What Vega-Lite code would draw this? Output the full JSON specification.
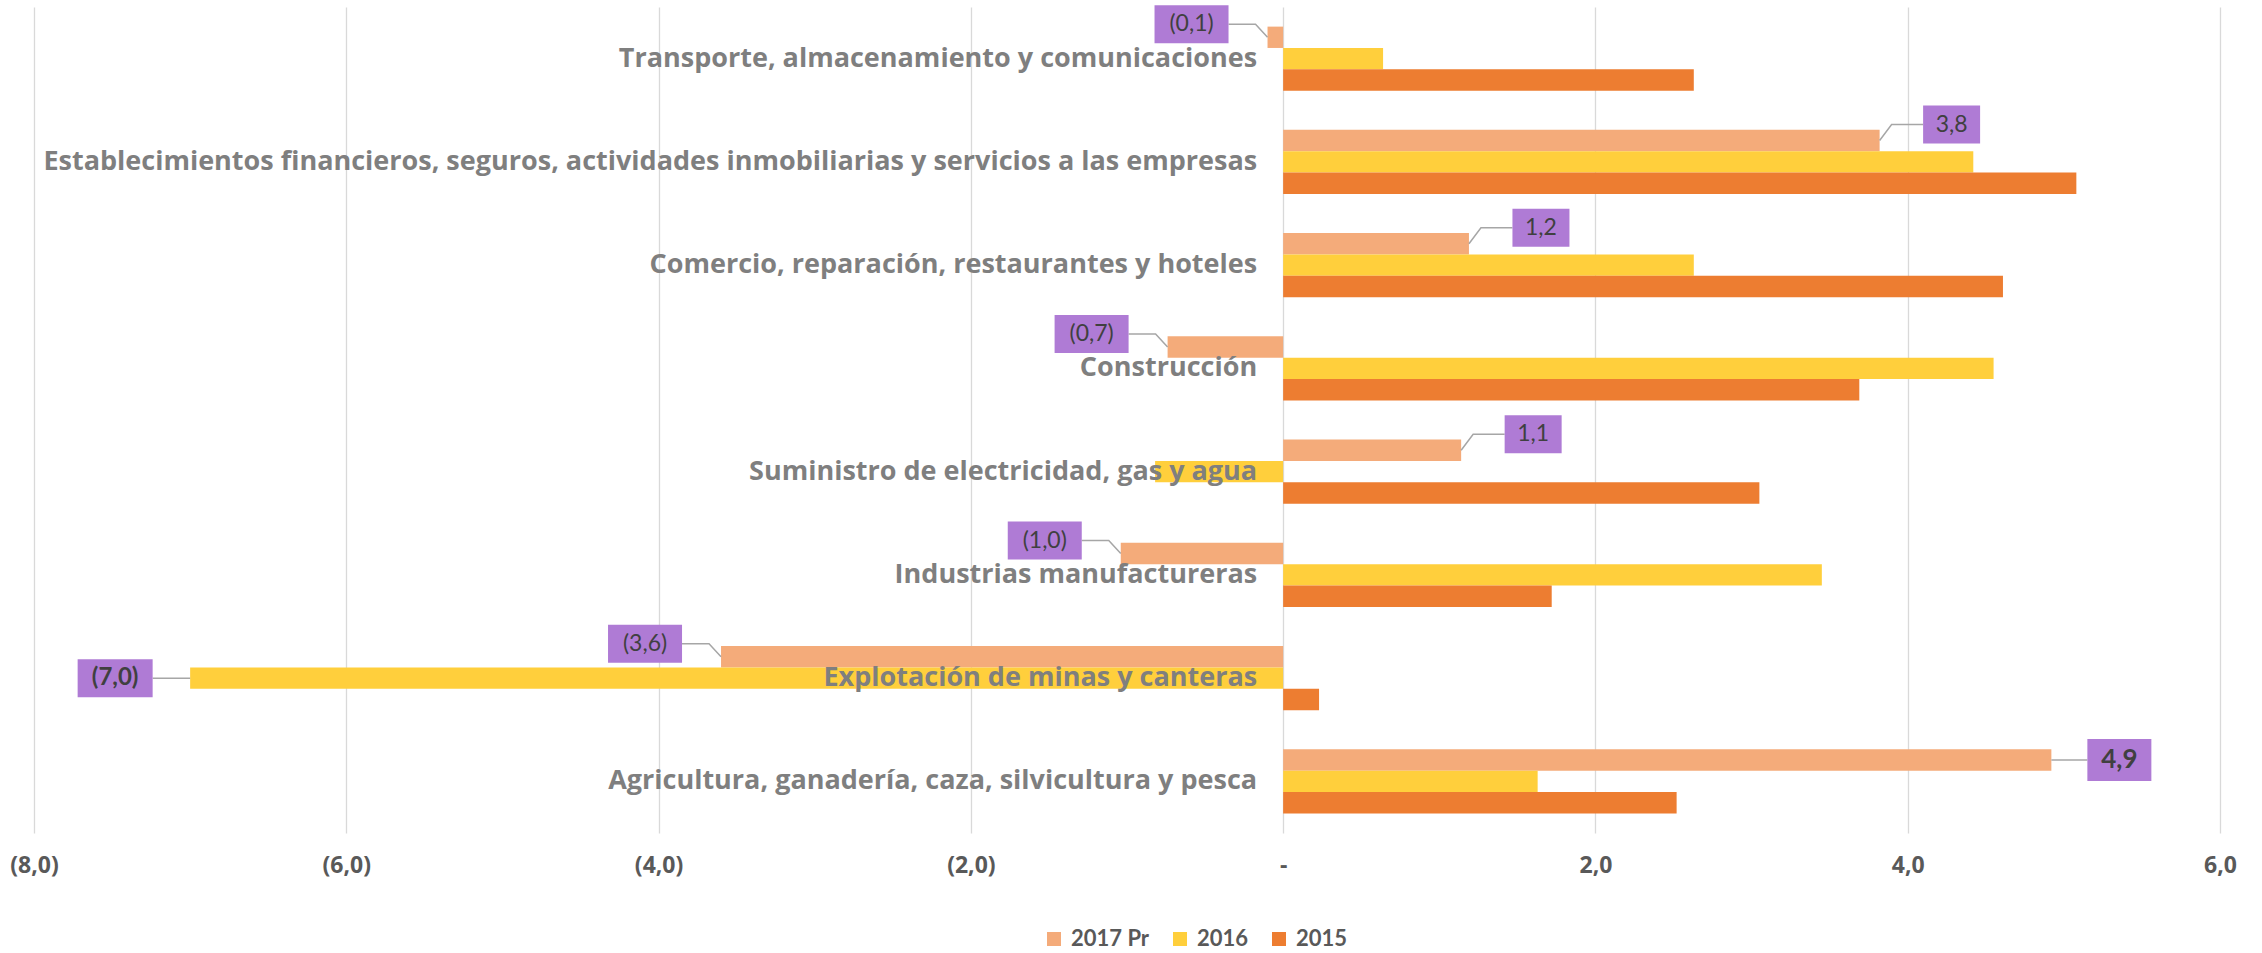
{
  "$schema": "https://vega.github.io/schema/vega-lite/v6.json",
  "width": 2186,
  "height": 826,
  "autosize": {"type": "none"},
  "padding": {"left": 34, "top": 7, "right": 42, "bottom": 120},
  "background": "white",
  "config": {
    "view": {"stroke": null},
    "font": "Lato",
    "locale": {"number": {"decimal": ",", "thousands": ".", "grouping": [3], "currency": ["", ""]}}
  },
  "data": {
    "values": [
      {"sector": "Transporte, almacenamiento y comunicaciones", "serie": "2017 Pr", "valor": -0.1},
      {"sector": "Transporte, almacenamiento y comunicaciones", "serie": "2016", "valor": 0.64},
      {"sector": "Transporte, almacenamiento y comunicaciones", "serie": "2015", "valor": 2.63},
      {"sector": "Establecimientos financieros, seguros, actividades inmobiliarias y servicios a las empresas", "serie": "2017 Pr", "valor": 3.82},
      {"sector": "Establecimientos financieros, seguros, actividades inmobiliarias y servicios a las empresas", "serie": "2016", "valor": 4.42},
      {"sector": "Establecimientos financieros, seguros, actividades inmobiliarias y servicios a las empresas", "serie": "2015", "valor": 5.08},
      {"sector": "Comercio, reparación, restaurantes y hoteles", "serie": "2017 Pr", "valor": 1.19},
      {"sector": "Comercio, reparación, restaurantes y hoteles", "serie": "2016", "valor": 2.63},
      {"sector": "Comercio, reparación, restaurantes y hoteles", "serie": "2015", "valor": 4.61},
      {"sector": "Construcción", "serie": "2017 Pr", "valor": -0.74},
      {"sector": "Construcción", "serie": "2016", "valor": 4.55},
      {"sector": "Construcción", "serie": "2015", "valor": 3.69},
      {"sector": "Suministro de electricidad, gas y agua", "serie": "2017 Pr", "valor": 1.14},
      {"sector": "Suministro de electricidad, gas y agua", "serie": "2016", "valor": -0.82},
      {"sector": "Suministro de electricidad, gas y agua", "serie": "2015", "valor": 3.05},
      {"sector": "Industrias manufactureras", "serie": "2017 Pr", "valor": -1.04},
      {"sector": "Industrias manufactureras", "serie": "2016", "valor": 3.45},
      {"sector": "Industrias manufactureras", "serie": "2015", "valor": 1.72},
      {"sector": "Explotación de minas y canteras", "serie": "2017 Pr", "valor": -3.6},
      {"sector": "Explotación de minas y canteras", "serie": "2016", "valor": -7.0},
      {"sector": "Explotación de minas y canteras", "serie": "2015", "valor": 0.23},
      {"sector": "Agricultura, ganadería, caza, silvicultura y pesca", "serie": "2017 Pr", "valor": 4.92},
      {"sector": "Agricultura, ganadería, caza, silvicultura y pesca", "serie": "2016", "valor": 1.63},
      {"sector": "Agricultura, ganadería, caza, silvicultura y pesca", "serie": "2015", "valor": 2.52}
    ]
  },
  "encoding": {
    "y": {
      "field": "sector",
      "type": "nominal",
      "sort": [
        "Transporte, almacenamiento y comunicaciones",
        "Establecimientos financieros, seguros, actividades inmobiliarias y servicios a las empresas",
        "Comercio, reparación, restaurantes y hoteles",
        "Construcción",
        "Suministro de electricidad, gas y agua",
        "Industrias manufactureras",
        "Explotación de minas y canteras",
        "Agricultura, ganadería, caza, silvicultura y pesca"
      ],
      "scale": {"paddingInner": 0.38, "paddingOuter": 0.19},
      "axis": null
    }
  },
  "layer": [
    {
      "mark": {"type": "bar"},
      "encoding": {
        "x": {
          "field": "valor",
          "type": "quantitative",
          "scale": {"domain": [-8, 6], "nice": false, "zero": false},
          "axis": {
            "values": [-8, -6, -4, -2, 0, 2, 4, 6],
            "format": "(.1f",
            "labelExpr": "datum.value == 0 ? '-' : datum.label",
            "title": null,
            "grid": true,
            "gridColor": "#D9D9D9",
            "gridWidth": 1.3,
            "domain": false,
            "ticks": false,
            "labelFlush": false,
            "labelPadding": 21,
            "labelFont": "Open Sans",
            "labelFontWeight": "bold",
            "labelFontSize": 23,
            "labelColor": "#595959"
          }
        },
        "yOffset": {"field": "serie", "sort": ["2017 Pr", "2016", "2015"]},
        "color": {
          "field": "serie",
          "type": "nominal",
          "scale": {"domain": ["2017 Pr", "2016", "2015"], "range": ["#F4AB7A", "#FFCF3C", "#ED7D31"]},
          "legend": {
            "title": null,
            "orient": "none",
            "direction": "horizontal",
            "legendX": 1009,
            "legendY": 921,
            "padding": 0,
            "symbolType": "square",
            "symbolSize": 196,
            "symbolStrokeWidth": 0,
            "labelFont": "Lato",
            "labelFontWeight": "bold",
            "labelFontSize": 22,
            "labelColor": "#595959",
            "labelOffset": 6,
            "columnPadding": 19
          }
        }
      }
    },
    {
      "transform": [{"filter": "datum.serie == '2016'"}],
      "mark": {"type": "text", "align": "right", "baseline": "middle", "dx": -26, "font": "Open Sans", "fontWeight": "bold", "fontSize": 27, "color": "#7F7F7F"},
      "encoding": {"x": {"datum": 0}, "text": {"field": "sector"}}
    },
    {
      "transform": [{"filter": "datum.serie == '2017 Pr' || datum.valor < -5"}],
      "mark": {"type": "point", "filled": false, "size": 400, "stroke": "#A6A6A6", "strokeWidth": 1.5, "opacity": 1},
      "encoding": {
        "x": {"field": "valor", "type": "quantitative"},
        "yOffset": {"field": "serie", "sort": ["2017 Pr", "2016", "2015"]},
        "shape": {
          "condition": [
            {"test": "datum.valor < -5", "value": "M0,0H-3.75"},
            {"test": "datum.valor >= 4.5", "value": "M0,0H3.6"},
            {"test": "datum.valor < 0", "value": "M0,0L-1.2,-1.3H-3.9"}
          ],
          "value": "M0,0L1.2,-1.6H4.35"
        }
      }
    },
    {
      "transform": [{"filter": "datum.serie == '2017 Pr' || datum.valor < -5"}],
      "mark": {"type": "point", "filled": true, "size": 400, "color": "#AF7BD5", "strokeWidth": 0, "opacity": 1},
      "encoding": {
        "x": {"field": "valor", "type": "quantitative"},
        "yOffset": {"field": "serie", "sort": ["2017 Pr", "2016", "2015"]},
        "shape": {
          "condition": [
            {"test": "datum.valor < -5", "value": "M-11.25,-1.9H-3.75V1.9H-11.25Z"},
            {"test": "datum.valor >= 4.5", "value": "M3.6,-2.1H10V2.1H3.6Z"},
            {"test": "datum.valor < 0", "value": "M-11.3,-3.2H-3.9V0.6H-11.3Z"}
          ],
          "value": "M4.35,-3.5H10.05V0.3H4.35Z"
        }
      }
    },
    {
      "transform": [{"filter": "datum.serie == '2017 Pr' && datum.valor < 0"}],
      "mark": {"type": "text", "align": "center", "baseline": "middle", "dx": -76, "dy": -13, "font": "Lato", "fontSize": 23, "color": "#404040"},
      "encoding": {
        "x": {"field": "valor", "type": "quantitative"},
        "yOffset": {"field": "serie", "sort": ["2017 Pr", "2016", "2015"]},
        "text": {"field": "valor", "type": "quantitative", "format": "(.1f"}
      }
    },
    {
      "transform": [{"filter": "datum.serie == '2017 Pr' && datum.valor >= 0 && datum.valor < 4.5"}],
      "mark": {"type": "text", "align": "center", "baseline": "middle", "dx": 72, "dy": -16, "font": "Lato", "fontSize": 23, "color": "#404040"},
      "encoding": {
        "x": {"field": "valor", "type": "quantitative"},
        "yOffset": {"field": "serie", "sort": ["2017 Pr", "2016", "2015"]},
        "text": {"field": "valor", "type": "quantitative", "format": "(.1f"}
      }
    },
    {
      "transform": [{"filter": "datum.valor < -5"}],
      "mark": {"type": "text", "align": "center", "baseline": "middle", "dx": -75, "dy": 0, "font": "Lato", "fontWeight": "bold", "fontSize": 24, "color": "#404040"},
      "encoding": {
        "x": {"field": "valor", "type": "quantitative"},
        "yOffset": {"field": "serie", "sort": ["2017 Pr", "2016", "2015"]},
        "text": {"field": "valor", "type": "quantitative", "format": "(.1f"}
      }
    },
    {
      "transform": [{"filter": "datum.serie == '2017 Pr' && datum.valor >= 4.5"}],
      "mark": {"type": "text", "align": "center", "baseline": "middle", "dx": 68, "dy": 0, "font": "Lato", "fontWeight": "bold", "fontSize": 26, "color": "#404040"},
      "encoding": {
        "x": {"field": "valor", "type": "quantitative"},
        "yOffset": {"field": "serie", "sort": ["2017 Pr", "2016", "2015"]},
        "text": {"field": "valor", "type": "quantitative", "format": "(.1f"}
      }
    }
  ]
}
